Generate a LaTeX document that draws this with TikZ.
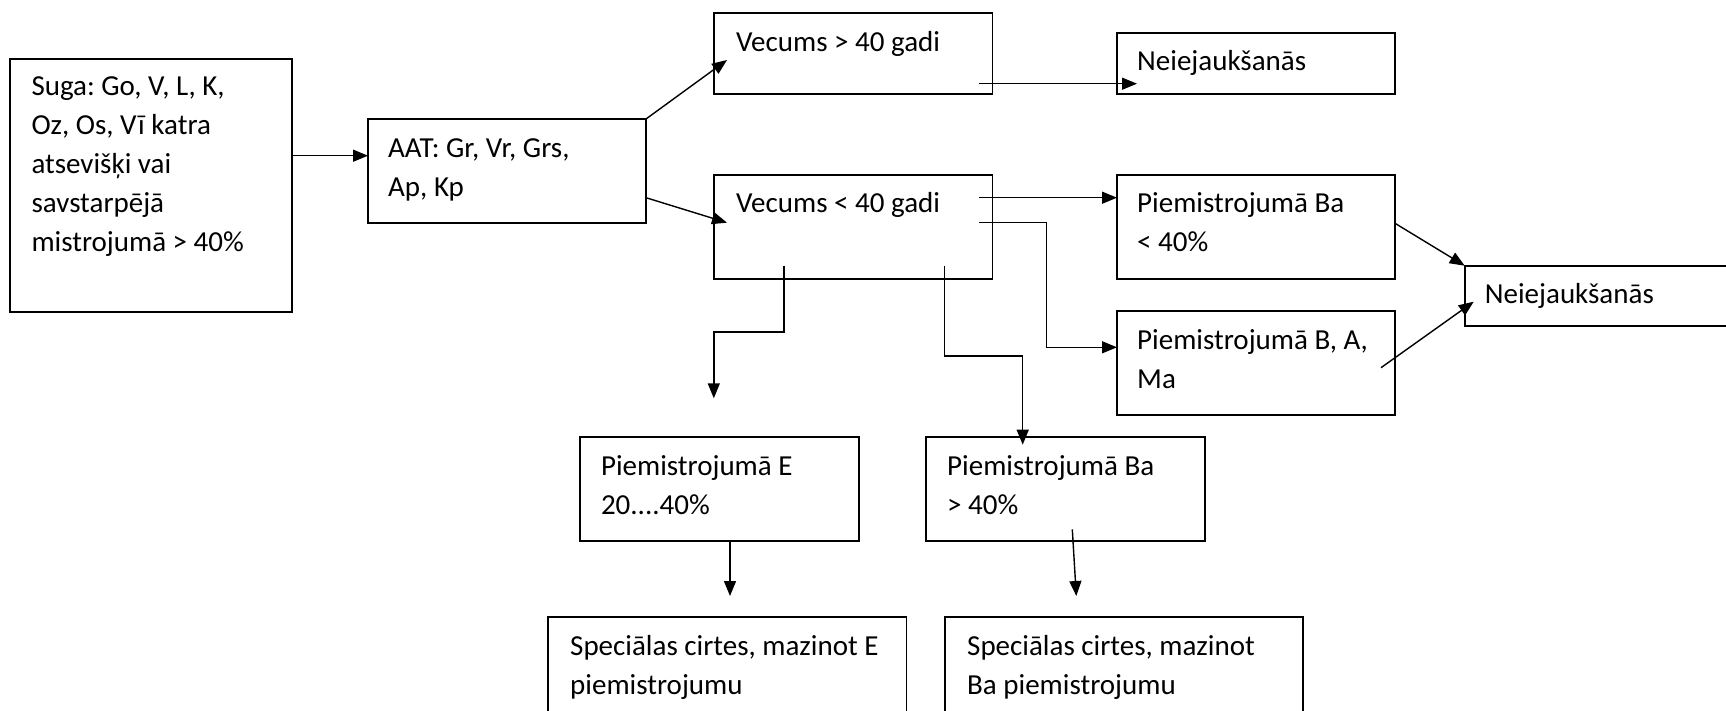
\documentclass[tikz,border=0pt]{standalone}
\usepackage{fontspec}
\setmainfont{Carlito}
\frenchspacing
\usetikzlibrary{arrows.meta,calc}
\begin{document}
\begin{tikzpicture}[x=1pt,y=-1pt]
\tikzset{
  boxnode/.style={draw, line width=1.8pt, rectangle, inner sep=0pt, outer sep=0pt, anchor=north west},
  txt/.style={anchor=base west, inner sep=0pt, font=\fontsize{29}{39}\selectfont\frenchspacing},
  conn/.style={line width=1.4pt, -{Triangle[length=15pt,width=12pt]}},
}
\useasboundingbox (0,0) rectangle (1726,711);
\fill[white] (0,0) rectangle (1726,711);
\clip (0,0) rectangle (1726,711);

% boxes
\node[boxnode, minimum width=282pt, minimum height=252.4pt] (suga) at (9.8,59.3) {};
\node[boxnode, minimum width=278pt, minimum height=103.7pt] (aat) at (368,119) {};
\node[boxnode, minimum width=278.5pt, minimum height=80.4pt] (v1) at (714,13.3) {};
\node[boxnode, minimum width=278pt, minimum height=60.4pt] (n1) at (1117,33.3) {};
\node[boxnode, minimum width=278.5pt, minimum height=104.3pt] (v2) at (714,175) {};
\node[boxnode, minimum width=278pt, minimum height=104.3pt] (p1) at (1117,175) {};
\node[boxnode, minimum width=278pt, minimum height=104.3pt] (p2) at (1117,311) {};
\node[boxnode, minimum width=320pt, minimum height=60.3pt] (n2) at (1464.7,265.7) {};
\node[boxnode, minimum width=279pt, minimum height=104.3pt] (pe) at (579.8,436.7) {};
\node[boxnode, minimum width=279pt, minimum height=104.3pt] (pb) at (926,436.7) {};
\node[boxnode, minimum width=358.5pt, minimum height=130pt] (se) at (548,616.7) {};
\node[boxnode, minimum width=358pt, minimum height=130pt] (sb) at (945,616.7) {};

% texts (first line's baseline is the anchor)
\node[txt] (tsuga) at ([xshift=21.5pt,yshift=-36pt]suga.north west) {\vtop{\hbox{Suga: Go, V, L, K,}\hbox{Oz, Os, Vī katra}\hbox{atsevišķi vai}\hbox{savstarpējā}\hbox{mistrojumā > 40\%}}};
\node[txt] (taat) at ([xshift=20pt,yshift=-38.5pt]aat.north west) {\vtop{\hbox{AAT: Gr, Vr, Grs,}\hbox{Ap, Kp}}};
\node[txt] (tv1) at ([xshift=22pt,yshift=-38pt]v1.north west) {Vecums > 40 gadi};
\node[txt] (tn1) at ([xshift=20pt,yshift=-37.7pt]n1.north west) {Neiejaukšanās};
\node[txt] (tv2) at ([xshift=22pt,yshift=-38pt]v2.north west) {Vecums < 40 gadi};
\node[txt] (tp1) at ([xshift=20pt,yshift=-38pt]p1.north west) {\vtop{\hbox{Piemistrojumā Ba}\hbox{< 40\%}}};
\node[txt] (tp2) at ([xshift=20pt,yshift=-38pt]p2.north west) {\vtop{\hbox{Piemistrojumā B, A,}\hbox{Ma}}};
\node[txt] (tn2) at ([xshift=20pt,yshift=-37.6pt]n2.north west) {Neiejaukšanās};
\node[txt] (tpe) at ([xshift=21pt,yshift=-38.3pt]pe.north west) {\vtop{\hbox{Piemistrojumā E}\hbox{20....40\%}}};
\node[txt] (tpb) at ([xshift=21pt,yshift=-38.3pt]pb.north west) {\vtop{\hbox{Piemistrojumā Ba}\hbox{> 40\%}}};
\node[txt] (tse) at ([xshift=22pt,yshift=-38.3pt]se.north west) {\vtop{\hbox{Speciālas cirtes, mazinot E}\hbox{piemistrojumu}}};
\node[txt] (tsb) at ([xshift=22pt,yshift=-38.3pt]sb.north west) {\vtop{\hbox{Speciālas cirtes, mazinot}\hbox{Ba piemistrojumu}}};

% free ends
\coordinate (e1) at (713.8,398.3);
\coordinate (e2) at (730,596);
\coordinate (e3) at (1076.3,596);

% connectors
\draw[conn] ([yshift=-96.4pt]suga.north east) -- ([yshift=-36.7pt]aat.north west);
\draw[conn] (aat.north east) -- ([xshift=13pt,yshift=-46.7pt]v1.north west);
\draw[conn] ([yshift=-78.7pt]aat.north east) -- ([xshift=13pt,yshift=-47.7pt]v2.north west);
\draw[conn] ([xshift=-13.5pt,yshift=-70.4pt]v1.north east) -- ([xshift=20pt,yshift=-50.4pt]n1.north west);
\draw[conn] ([xshift=-13.5pt,yshift=-22.7pt]v2.north east) -- ([yshift=-22.7pt]p1.north west);
\draw[conn] ([xshift=-13.5pt,yshift=-47.7pt]v2.north east) -- ++(67.7,0) |- ([yshift=-36.3pt]p2.north west);
\draw[conn] ([xshift=69.8pt,yshift=13.6pt]v2.south west) -- ++(0,66.3) -| (e1);
\draw[conn] ([xshift=230.4pt,yshift=13.6pt]v2.south west) -- ++(0,90.3) -| ([xshift=96.7pt,yshift=-8pt]pb.north west);
\draw[conn] ([xshift=150.2pt]pe.south west) -- (e2);
\draw[conn] ([xshift=146.3pt,yshift=11.7pt]pb.south west) -- (e3);
\draw[conn] ([yshift=-48.3pt]p1.north east) -- (n2.north west);
\draw[conn] ([xshift=-14pt,yshift=-56.7pt]p2.north east) -- ([xshift=9pt,yshift=-36pt]n2.north west);
\end{tikzpicture}
\end{document}
